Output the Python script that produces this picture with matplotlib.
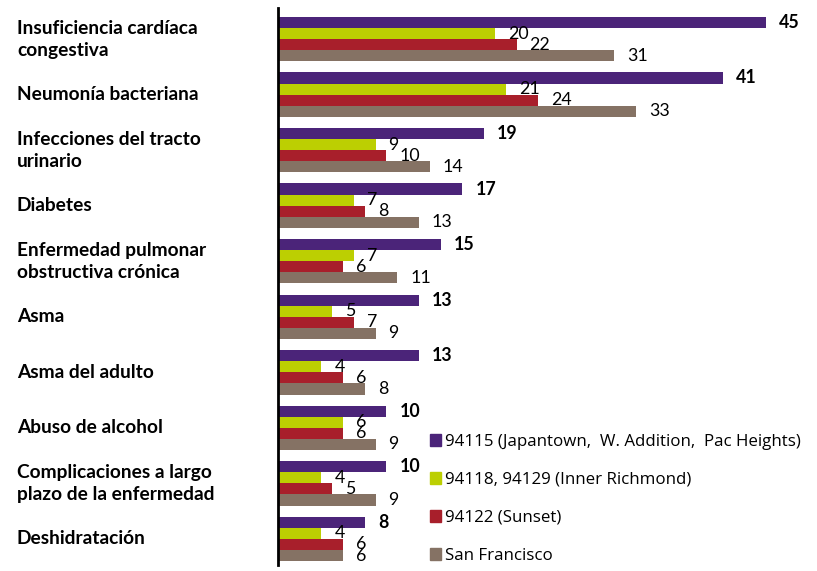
import numpy as np
import matplotlib.pyplot as plt
import matplotlib.transforms as mtransforms
from matplotlib.patches import Patch

# Datos
categorias = ["Insuficiencia cardíaca\ncongestiva", "Neumonía bacteriana",
              "Infecciones del tracto\nurinario", "Diabetes",
              "Enfermedad pulmonar\nobstructiva crónica", "Asma",
              "Asma del adulto", "Abuso de alcohol",
              "Complicaciones a largo\nplazo de la enfermedad", "Deshidratación"]
zona_94115 = [45, 41, 19, 17, 15, 13, 13, 10, 10, 8]
zona_94118 = [20, 21, 9, 7, 7, 5, 4, 6, 4, 4]
zona_94122 = [22, 24, 10, 8, 6, 7, 6, 6, 5, 6]
san_francisco = [31, 33, 14, 13, 11, 9, 8, 9, 9, 6]

series = [zona_94115, zona_94118, zona_94122, san_francisco]
nombres = ["94115 (Japantown,  W. Addition,  Pac Heights)",
           "94118, 94129 (Inner Richmond)", "94122 (Sunset)", "San Francisco"]
colores = ["#4b2479", "#bccf02", "#a81f2b", "#857264"]

fig = plt.figure(figsize=(8.17, 5.71), dpi=100)
ax = fig.add_axes([278 / 817, 6 / 571, 1 - 278 / 817, 557 / 571])

y = np.arange(len(categorias))
h = 0.2
for k, (vals, col) in enumerate(zip(series, colores)):
    pos = y - 0.3 + k * h
    ax.barh(pos, vals, height=h, color=col)
    for p, v in zip(pos, vals):
        ax.annotate(str(v), (v, p), xytext=(13, 0), textcoords="offset pixels",
                    va="center", ha="left", fontsize=12.8, family="Lato",
                    fontweight="bold" if k == 0 else "normal")

ax.set_xlim(0, 49.7)
ax.set_ylim(len(categorias) - 0.53, -0.56)
ax.set_xticks([])
ax.set_yticks([])
for s in ["top", "right", "bottom"]:
    ax.spines[s].set_visible(False)
ax.spines["left"].set_linewidth(2)

# Etiquetas de categoria
trans = mtransforms.blended_transform_factory(fig.transFigure, ax.transData)
for i, c in enumerate(categorias):
    ax.text(17 / 817, i, c, transform=trans, ha="left", va="center",
            fontsize=13.8, fontweight="bold", family="Lato", linespacing=1.35)

handles = [Patch(color=c) for c in colores]
ax.legend(handles, nombres, loc="lower left", bbox_to_anchor=(430 / 817, 7 / 571),
          bbox_transform=fig.transFigure, frameon=False, borderpad=0,
          borderaxespad=0, handlelength=0.65, handleheight=0.65,
          handletextpad=0.25, labelspacing=1.3,
          prop={"family": "Open Sans", "size": 12.2})

fig.savefig("out.png", dpi=100)
